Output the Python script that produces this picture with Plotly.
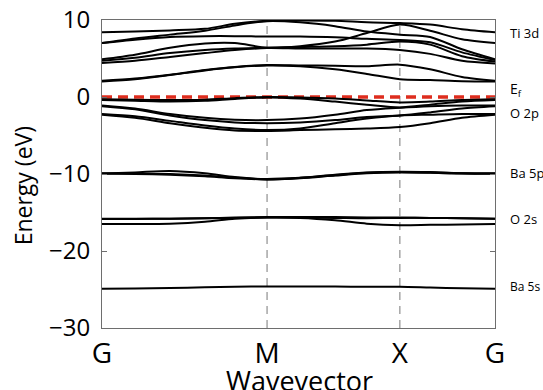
import plotly.graph_objects as go

# k-path sample positions (fraction of path length) and high-symmetry points
k = [0.0, 0.084, 0.173, 0.262, 0.338, 0.42, 0.504, 0.593, 0.674, 0.758, 0.835, 0.916, 1.0]
sym_pos = [0.0, 0.42, 0.758, 1.0]
sym_labels = ["G", "M", "X", "G"]

# Conduction bands (Ti 3d)
cb1 = [8.4, 8.5, 8.65, 8.85, 9.5, 9.9, 9.95, 9.9, 9.7, 9.6, 9.4, 8.8, 8.4]
cb2 = [7.0, 7.45, 7.8, 7.9, 7.9, 7.85, 7.85, 7.75, 7.55, 7.4, 7.1, 5.8, 4.8]
cb3 = [4.9, 5.5, 6.4, 6.95, 7.0, 6.4, 6.6, 7.2, 8.3, 9.4, 8.6, 7.5, 7.0]
cb4 = [4.7, 5.1, 5.7, 6.1, 6.3, 6.4, 6.5, 6.6, 6.8, 7.2, 6.8, 5.3, 4.6]
cb5 = [4.4, 4.7, 5.2, 5.7, 6.1, 6.35, 6.3, 6.3, 6.3, 6.1, 5.6, 4.7, 4.35]
cb6 = [7.0, 7.6, 8.1, 8.6, 9.3, 9.85, 9.7, 9.2, 8.5, 8.1, 7.8, 6.2, 4.9]
cb7 = [2.1, 2.4, 2.9, 3.5, 3.9, 4.15, 4.1, 4.05, 4.0, 4.2, 3.6, 2.6, 2.1]
cb8 = [2.0, 2.3, 2.85, 3.45, 3.85, 4.1, 4.0, 3.6, 3.0, 2.3, 2.2, 2.05, 2.0]

# Valence bands (O 2p)
vb1 = [-0.3, -0.35, -0.4, -0.35, -0.15, 0.0, -0.05, -0.2, -0.45, -0.7, -0.6, -0.4, -0.3]
vb2 = [-0.4, -0.5, -0.6, -0.5, -0.25, -0.05, -0.2, -0.6, -1.0, -1.35, -1.0, -0.6, -0.4]
vb3 = [-1.1, -1.5, -2.2, -2.7, -2.95, -3.0, -2.8, -2.3, -1.7, -1.4, -1.2, -1.1, -1.1]
vb4 = [-1.2, -1.6, -2.4, -3.0, -3.3, -3.4, -3.3, -3.0, -2.6, -2.4, -2.0, -1.5, -1.2]
vb5 = [-2.2, -2.5, -3.1, -3.7, -4.1, -4.3, -4.1, -3.4, -2.8, -2.4, -2.3, -2.2, -2.2]
vb6 = [-2.3, -2.7, -3.4, -4.0, -4.35, -4.4, -4.3, -4.2, -4.1, -3.9, -3.4, -2.7, -2.3]

# Ba 5p
p1 = [-9.95, -9.8, -9.6, -9.9, -10.4, -10.7, -10.5, -10.1, -9.8, -9.7, -9.75, -9.9, -9.95]
p2 = [-9.95, -10.0, -10.1, -10.3, -10.55, -10.7, -10.55, -10.2, -9.9, -9.8, -9.85, -9.95, -9.95]
p3 = [-9.95, -9.95, -10.0, -10.2, -10.5, -10.65, -10.5, -10.15, -9.85, -9.75, -9.8, -9.9, -9.95]

# O 2s
s1 = [-15.8, -15.8, -15.8, -15.75, -15.65, -15.6, -15.6, -15.6, -15.65, -15.65, -15.7, -15.75, -15.8]
s2 = [-16.5, -16.5, -16.45, -16.2, -15.8, -15.65, -15.7, -16.0, -16.45, -16.65, -16.6, -16.55, -16.5]
s3 = [-15.85, -15.85, -15.8, -15.75, -15.7, -15.65, -15.65, -15.7, -15.75, -15.7, -15.7, -15.75, -15.8]

# Ba 5s
b1 = [-24.9, -24.88, -24.8, -24.72, -24.65, -24.6, -24.6, -24.62, -24.65, -24.65, -24.75, -24.85, -24.9]

bands = [cb1, cb2, cb3, cb4, cb5, cb6, cb7, cb8,
         vb1, vb2, vb3, vb4, vb5, vb6,
         p1, p2, p3, s1, s2, s3, b1]

# Right-side labels
orb_labels = ["Ti 3d", "E<sub>f</sub>", "O 2p", "Ba 5p", "O 2s", "Ba 5s"]
orb_y = [8.3, 1.0, -2.1, -9.9, -15.9, -24.6]
orb_size = [13, 14, 13, 13, 13, 12]

fig = go.Figure()

# Fermi level
fig.add_trace(go.Scatter(x=[0, 1], y=[0, 0], mode="lines",
                         line=dict(color="rgb(222,45,30)", width=3.5, dash="10px,6px"),
                         hoverinfo="skip", showlegend=False))

for b in bands:
    fig.add_trace(go.Scatter(x=k, y=b, mode="lines",
                             line=dict(color="black", width=2, shape="spline", smoothing=0.8),
                             showlegend=False))

# vertical dashed lines at M and X
for p in sym_pos[1:3]:
    fig.add_shape(type="line", x0=p, x1=p, y0=-30, y1=10, xref="x", yref="y",
                  line=dict(color="rgb(120,120,120)", width=1, dash="8px,6px"), layer="below")

for t, yy, fs in zip(orb_labels, orb_y, orb_size):
    fig.add_annotation(x=1.033, xref="paper", y=yy, yref="y", text=t, showarrow=False,
                       xanchor="left", yanchor="middle",
                       font=dict(family="Open Sans, Arial", size=fs, color="black"))

font_main = "Open Sans, Arial"

# axis titles as annotations for exact placement
fig.add_annotation(text="Wavevector", xref="paper", yref="paper", x=0.503, y=-0.172,
                   xanchor="center", yanchor="middle", showarrow=False,
                   font=dict(family=font_main, size=27, color="black"))
fig.add_annotation(text="Energy (eV)", xref="paper", yref="paper", x=-0.201, y=0.46,
                   xanchor="center", yanchor="middle", showarrow=False, textangle=-90,
                   font=dict(family=font_main, size=23, color="black"))

fig.update_layout(
    width=543, height=390,
    margin=dict(l=102, r=48, t=20, b=62),
    paper_bgcolor="white", plot_bgcolor="white",
    xaxis=dict(range=[0, 1], tickvals=sym_pos, ticktext=sym_labels, automargin=False,
               showgrid=False, zeroline=False, showline=True, mirror=True,
               linecolor="rgb(110,110,110)", linewidth=1, ticks="",
               ticklabeloverflow="allow", ticklabelstandoff=0,
               tickfont=dict(family=font_main, size=28, color="black")),
    yaxis=dict(range=[-30, 10], tickvals=[10, 0, -10, -20, -30], automargin=False,
               showgrid=False, zeroline=False, showline=True, mirror="ticks",
               linecolor="rgb(110,110,110)", linewidth=1, ticks="inside", ticklen=5,
               tickcolor="rgb(110,110,110)", ticklabeloverflow="allow", ticklabelstandoff=6,
               tickfont=dict(family=font_main, size=24, color="black")),
)

fig.write_html("out.html", config={"displayModeBar": False},
               post_script="document.body.style.margin='0';document.body.style.overflow='hidden';")
